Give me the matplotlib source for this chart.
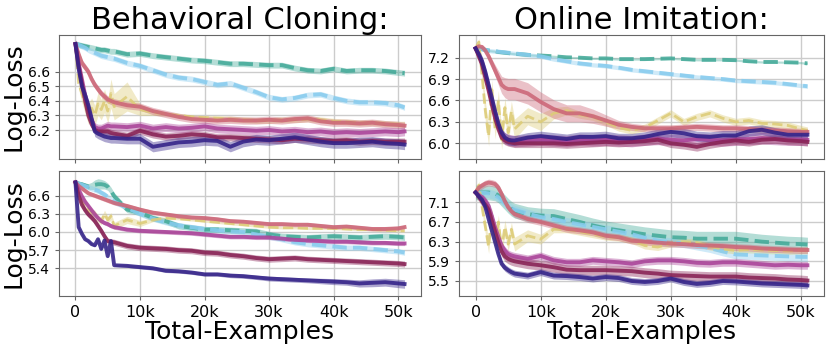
import numpy as np
import matplotlib
matplotlib.use('Agg')
import matplotlib.pyplot as plt

# x positions (thousands of examples)
X = [0, 0.5, 1, 1.5, 2, 2.5, 3, 3.5, 4, 4.5, 5, 5.5, 6,
     8, 10, 12, 14, 16, 18, 20, 22, 24, 26, 28, 30, 32, 34, 36, 38, 40, 42, 44, 46, 48, 50,
     51]

# ---- Behavioral Cloning, top row ----
tl_teal = [6.79, 6.785, 6.78, 6.775, 6.77, 6.765, 6.76, 6.755, 6.75, 6.75, 6.745, 6.74, 6.74,
           6.72, 6.725, 6.71, 6.70, 6.69, 6.68, 6.675, 6.665, 6.655, 6.655, 6.65, 6.645, 6.645, 6.625, 6.61, 6.605, 6.62, 6.605, 6.61, 6.61, 6.605, 6.595,
           6.59]
tl_blue = [6.79, 6.785, 6.775, 6.765, 6.75, 6.74, 6.73, 6.72, 6.71, 6.705, 6.70, 6.695, 6.69,
           6.66, 6.64, 6.61, 6.58, 6.56, 6.55, 6.53, 6.51, 6.52, 6.49, 6.46, 6.425, 6.41, 6.42, 6.44, 6.445, 6.42, 6.40, 6.39, 6.39, 6.385, 6.37,
           6.355]
tl_sand = [6.79, 6.52, 6.45, 6.38, 6.31, 6.35, 6.30, 6.38, 6.34, 6.40, 6.33, 6.45, 6.36,
           6.43, 6.34, 6.32, 6.31, 6.30, 6.29, 6.285, 6.28, 6.275, 6.27, 6.265, 6.265, 6.27, 6.27, 6.275, 6.27, 6.26, 6.255, 6.25, 6.25, 6.245, 6.24,
           6.24]
tl_rose = [6.79, 6.72, 6.66, 6.63, 6.60, 6.55, 6.51, 6.48, 6.45, 6.43, 6.41, 6.40, 6.39,
           6.37, 6.36, 6.33, 6.31, 6.29, 6.275, 6.27, 6.265, 6.27, 6.265, 6.265, 6.27, 6.265, 6.275, 6.28, 6.26, 6.25, 6.25, 6.245, 6.25, 6.24, 6.235,
           6.23]
tl_purple = [6.79, 6.66, 6.55, 6.44, 6.34, 6.27, 6.22, 6.21, 6.21, 6.22, 6.23, 6.225, 6.225,
             6.22, 6.23, 6.21, 6.22, 6.21, 6.215, 6.225, 6.21, 6.205, 6.20, 6.195, 6.20, 6.19, 6.195, 6.185, 6.19, 6.18, 6.185, 6.18, 6.185, 6.19, 6.185,
             6.19]
tl_wine = [6.79, 6.64, 6.52, 6.40, 6.30, 6.24, 6.20, 6.19, 6.19, 6.19, 6.19, 6.18, 6.175,
           6.16, 6.195, 6.17, 6.155, 6.16, 6.17, 6.165, 6.15, 6.15, 6.145, 6.14, 6.135, 6.13, 6.14, 6.135, 6.13, 6.125, 6.13, 6.12, 6.125, 6.12, 6.12,
           6.12]
tl_indigo = [6.79, 6.62, 6.50, 6.44, 6.37, 6.28, 6.19, 6.175, 6.165, 6.155, 6.15, 6.145, 6.145,
             6.14, 6.14, 6.085, 6.10, 6.115, 6.12, 6.13, 6.125, 6.085, 6.12, 6.135, 6.13, 6.14, 6.15, 6.135, 6.12, 6.11, 6.11, 6.115, 6.12, 6.11, 6.105,
             6.10]
tl_sand_band = [0.0, 0.04, 0.06, 0.07, 0.07, 0.07, 0.07, 0.08, 0.07, 0.08, 0.08, 0.10, 0.09,
                0.10, 0.04, 0.02, 0.015, 0.015, 0.015, 0.015, 0.02, 0.02, 0.02, 0.02, 0.02, 0.02, 0.02, 0.02, 0.02, 0.02, 0.02, 0.02, 0.02, 0.02, 0.02,
                0.02]

# ---- Online Imitation, top row ----
tr_teal = [7.33, 7.325, 7.32, 7.31, 7.30, 7.295, 7.29, 7.28, 7.275, 7.27, 7.265, 7.26, 7.255,
           7.24, 7.23, 7.22, 7.205, 7.20, 7.19, 7.19, 7.18, 7.18, 7.18, 7.185, 7.19, 7.18, 7.17, 7.17, 7.17, 7.165, 7.15, 7.14, 7.14, 7.135, 7.13,
           7.12]
tr_blue = [7.33, 7.325, 7.32, 7.31, 7.30, 7.295, 7.29, 7.285, 7.28, 7.275, 7.27, 7.265, 7.26,
           7.24, 7.22, 7.18, 7.15, 7.12, 7.10, 7.085, 7.06, 7.03, 7.01, 6.99, 6.97, 6.95, 6.93, 6.915, 6.90, 6.88, 6.87, 6.86, 6.85, 6.83, 6.81,
           6.80]
tr_sand = [7.33, 7.42, 6.95, 6.45, 6.10, 6.75, 6.20, 6.60, 6.05, 6.50, 6.15, 6.45, 6.20,
           6.38, 6.30, 6.42, 6.46, 6.40, 6.37, 6.30, 6.22, 6.18, 6.22, 6.32, 6.42, 6.30, 6.37, 6.42, 6.35, 6.30, 6.32, 6.28, 6.27, 6.25, 6.20,
           6.18]
tr_rose = [7.33, 7.36, 7.35, 7.30, 7.22, 7.12, 7.02, 6.92, 6.82, 6.78, 6.76, 6.76, 6.76,
           6.70, 6.58, 6.48, 6.42, 6.42, 6.38, 6.32, 6.26, 6.23, 6.21, 6.21, 6.21, 6.22, 6.23, 6.22, 6.21, 6.21, 6.20, 6.19, 6.18, 6.17, 6.16,
           6.16]
tr_purple = [7.33, 7.24, 7.12, 6.96, 6.78, 6.58, 6.40, 6.24, 6.12, 6.07, 6.05, 6.04, 6.03,
             6.04, 6.05, 6.04, 6.03, 6.05, 6.04, 6.05, 6.04, 6.03, 6.05, 6.06, 6.05, 6.04, 6.06, 6.05, 6.04, 6.05, 6.06, 6.07, 6.06, 6.05, 6.05,
             6.05]
tr_wine = [7.33, 7.22, 7.10, 6.92, 6.74, 6.54, 6.35, 6.20, 6.08, 6.04, 6.02, 6.01, 6.00,
           6.00, 6.00, 6.00, 5.99, 6.00, 6.01, 6.02, 6.01, 6.02, 6.03, 6.05, 6.00, 5.98, 5.95, 5.99, 6.02, 6.04, 6.02, 6.05, 6.06, 6.04, 6.03,
           6.02]
tr_indigo = [7.33, 7.25, 7.15, 7.00, 6.82, 6.64, 6.45, 6.28, 6.15, 6.08, 6.05, 6.04, 6.04,
             6.08, 6.10, 6.08, 6.06, 6.09, 6.09, 6.10, 6.07, 6.07, 6.09, 6.13, 6.16, 6.14, 6.10, 6.09, 6.11, 6.11, 6.17, 6.19, 6.15, 6.12, 6.12,
             6.12]
tr_sand_band = [0.0, 0.05, 0.10, 0.14, 0.14, 0.14, 0.14, 0.14, 0.14, 0.14, 0.14, 0.14, 0.14,
                0.12, 0.12, 0.08, 0.06, 0.05, 0.05, 0.05, 0.05, 0.05, 0.05, 0.05, 0.05, 0.05, 0.05, 0.05, 0.05, 0.05, 0.05, 0.05, 0.05, 0.05, 0.05,
                0.05]
tr_rose_band = [0.0, 0.02, 0.03, 0.04, 0.05, 0.06, 0.08, 0.10, 0.12, 0.14, 0.15, 0.15, 0.15,
                0.15, 0.14, 0.13, 0.12, 0.12, 0.10, 0.08, 0.06, 0.05, 0.05, 0.05, 0.05, 0.05, 0.05, 0.05, 0.05, 0.05, 0.05, 0.05, 0.05, 0.05, 0.05,
                0.05]

# ---- Behavioral Cloning, bottom row ----
bl_teal = [6.82, 6.80, 6.79, 6.77, 6.75, 6.76, 6.78, 6.79, 6.79, 6.78, 6.75, 6.68, 6.59,
           6.37, 6.32, 6.23, 6.18, 6.10, 6.07, 6.04, 6.04, 6.03, 6.02, 6.01, 5.96, 5.93, 5.92, 5.91, 5.92, 5.93, 5.92, 5.91, 5.92, 5.93, 5.92,
           5.91]
bl_blue = [6.82, 6.80, 6.78, 6.76, 6.74, 6.72, 6.70, 6.68, 6.65, 6.62, 6.58, 6.54, 6.50,
           6.40, 6.30, 6.22, 6.16, 6.11, 6.08, 6.05, 6.03, 6.01, 6.00, 5.96, 5.92, 5.88, 5.83, 5.80, 5.78, 5.76, 5.74, 5.74, 5.72, 5.70, 5.68,
           5.66]
bl_sand = [6.82, 6.62, 6.50, 6.40, 6.36, 6.32, 6.30, 6.22, 6.18, 6.30, 6.20, 6.26, 6.10,
           6.20, 6.14, 6.20, 6.23, 6.22, 6.20, 6.18, 6.16, 6.14, 6.12, 6.10, 6.08, 6.07, 6.07, 6.06, 6.06, 6.06, 6.05, 6.04, 6.04, 6.03, 6.02,
           6.02]
bl_rose = [6.82, 6.76, 6.72, 6.68, 6.64, 6.62, 6.60, 6.58, 6.56, 6.54, 6.52, 6.50, 6.48,
           6.43, 6.37, 6.32, 6.29, 6.26, 6.24, 6.23, 6.21, 6.18, 6.17, 6.15, 6.13, 6.13, 6.12, 6.12, 6.10, 6.08, 6.09, 6.07, 6.05, 6.05, 6.06,
           6.08]
bl_purple = [6.82, 6.70, 6.59, 6.50, 6.43, 6.36, 6.29, 6.23, 6.18, 6.15, 6.13, 6.10, 6.08,
             6.04, 6.02, 6.01, 6.00, 5.99, 5.98, 5.96, 5.94, 5.92, 5.92, 5.91, 5.91, 5.89, 5.87, 5.86, 5.85, 5.84, 5.84, 5.83, 5.82, 5.82, 5.81,
             5.81]
bl_wine = [6.82, 6.60, 6.45, 6.36, 6.29, 6.24, 6.18, 6.10, 6.02, 5.93, 5.85, 5.84, 5.83,
           5.77, 5.74, 5.73, 5.72, 5.70, 5.69, 5.66, 5.65, 5.62, 5.60, 5.57, 5.55, 5.56, 5.57, 5.55, 5.54, 5.53, 5.52, 5.51, 5.50, 5.49, 5.48,
           5.47]
bl_indigo = [6.82, 6.08, 5.97, 5.88, 5.85, 5.80, 5.78, 5.88, 5.72, 5.86, 5.60, 5.85, 5.45,
             5.44, 5.42, 5.40, 5.36, 5.35, 5.33, 5.30, 5.30, 5.28, 5.27, 5.25, 5.23, 5.22, 5.21, 5.20, 5.19, 5.18, 5.17, 5.15, 5.16, 5.17, 5.15,
             5.14]
bl_teal_band = [0.0, 0.02, 0.03, 0.04, 0.05, 0.06, 0.08, 0.09, 0.08, 0.07, 0.06, 0.06, 0.06,
                0.05, 0.05, 0.05, 0.05, 0.05, 0.05, 0.05, 0.05, 0.05, 0.05, 0.05, 0.05, 0.05, 0.05, 0.05, 0.05, 0.05, 0.05, 0.05, 0.05, 0.05, 0.05,
                0.05]
bl_sand_band = [0.0, 0.03, 0.04, 0.05, 0.05, 0.06, 0.06, 0.06, 0.06, 0.06, 0.06, 0.06, 0.06,
                0.06, 0.05, 0.03, 0.02, 0.02, 0.02, 0.02, 0.02, 0.02, 0.02, 0.02, 0.02, 0.02, 0.02, 0.02, 0.02, 0.02, 0.02, 0.02, 0.02, 0.02, 0.02,
                0.02]
bl_indigo_band = [0.0, 0.02, 0.02, 0.02, 0.02, 0.02, 0.02, 0.02, 0.02, 0.02, 0.02, 0.02, 0.02,
                  0.025, 0.03, 0.03, 0.03, 0.03, 0.03, 0.03, 0.03, 0.035, 0.035, 0.035, 0.04, 0.04, 0.04, 0.04, 0.045, 0.05, 0.05, 0.06, 0.065, 0.065, 0.07,
                  0.07]

# ---- Online Imitation, bottom row ----
br_teal = [7.30, 7.30, 7.30, 7.30, 7.30, 7.29, 7.28, 7.24, 7.17, 7.10, 7.03, 6.97, 6.93,
           6.86, 6.83, 6.82, 6.76, 6.70, 6.63, 6.57, 6.53, 6.49, 6.45, 6.42, 6.39, 6.38, 6.36, 6.36, 6.36, 6.36, 6.33, 6.30, 6.28, 6.26, 6.25,
           6.24]
br_blue = [7.30, 7.30, 7.29, 7.29, 7.28, 7.26, 7.24, 7.20, 7.14, 7.08, 7.03, 6.98, 6.95,
           6.87, 6.80, 6.76, 6.70, 6.65, 6.60, 6.55, 6.50, 6.45, 6.38, 6.32, 6.29, 6.27, 6.22, 6.17, 6.10, 6.04, 6.03, 6.02, 6.01, 6.00, 5.99,
           5.99]
br_sand = [7.30, 7.45, 7.00, 6.60, 6.20, 6.85, 6.25, 6.70, 6.15, 6.60, 6.25, 6.55, 6.25,
           6.42, 6.35, 6.55, 6.55, 6.50, 6.45, 6.40, 6.38, 6.33, 6.22, 6.19, 6.26, 6.30, 6.28, 6.20, 6.15, 6.12, 6.14, 6.13, 6.12, 6.11, 6.12,
           6.12]
br_rose = [7.30, 7.40, 7.44, 7.48, 7.50, 7.49, 7.47, 7.40, 7.27, 7.12, 7.00, 6.92, 6.86,
           6.76, 6.70, 6.63, 6.56, 6.53, 6.49, 6.42, 6.39, 6.32, 6.30, 6.28, 6.26, 6.25, 6.23, 6.22, 6.21, 6.19, 6.18, 6.16, 6.15, 6.14, 6.13,
           6.13]
br_purple = [7.30, 7.25, 7.20, 7.13, 7.03, 6.82, 6.59, 6.40, 6.22, 6.12, 6.05, 6.02, 6.00,
             5.95, 6.01, 5.92, 5.88, 5.88, 5.92, 5.90, 5.88, 5.85, 5.90, 5.92, 5.92, 5.90, 5.87, 5.86, 5.88, 5.88, 5.86, 5.84, 5.82, 5.83, 5.82,
             5.82]
br_wine = [7.30, 7.22, 7.12, 7.05, 6.95, 6.72, 6.50, 6.28, 6.10, 6.00, 5.95, 5.92, 5.90,
           5.85, 5.82, 5.78, 5.73, 5.72, 5.72, 5.72, 5.71, 5.70, 5.67, 5.65, 5.62, 5.61, 5.60, 5.59, 5.59, 5.59, 5.57, 5.56, 5.55, 5.53, 5.52,
           5.51]
br_indigo = [7.30, 7.22, 7.15, 7.00, 6.76, 6.52, 6.29, 6.05, 5.85, 5.77, 5.72, 5.68, 5.65,
             5.61, 5.68, 5.61, 5.60, 5.58, 5.55, 5.58, 5.56, 5.50, 5.48, 5.50, 5.55, 5.48, 5.44, 5.46, 5.50, 5.49, 5.47, 5.45, 5.44, 5.43, 5.42,
             5.41]
br_sand_band = [0.0, 0.08, 0.10, 0.14, 0.14, 0.14, 0.14, 0.14, 0.14, 0.14, 0.14, 0.14, 0.14,
                0.12, 0.10, 0.07, 0.07, 0.07, 0.07, 0.07, 0.07, 0.07, 0.07, 0.07, 0.07, 0.07, 0.07, 0.07, 0.07, 0.07, 0.07, 0.07, 0.07, 0.07, 0.07,
                0.07]

x_ticks = [0, 10000, 20000, 30000, 40000, 50000]
x_tick_labels = ['0', '10k', '20k', '30k', '40k', '50k']

colors = {'teal': '#44AA99', 'blue': '#88CCEE', 'sand': '#DDCC77', 'rose': '#CC6677',
          'purple': '#AA4499', 'wine': '#882255', 'indigo': '#332288'}
dashed = ['teal', 'blue', 'sand']
order = ['teal', 'blue', 'sand', 'rose', 'purple', 'wine', 'indigo']

steps = np.array(X) * 1000


def draw(ax, curves, bands):
    for name in order:
        y = np.array(curves[name])
        b = np.array(bands[name])
        c = colors[name]
        ax.fill_between(steps, y - b, y + b, color=c, alpha=0.4, lw=0)
        ax.plot(steps, y, color=c, lw=2.8 if name != 'sand' else 2.0,
                ls='--' if name in dashed else '-', alpha=0.88)


panels = [
    (dict(teal=tl_teal, blue=tl_blue, sand=tl_sand, rose=tl_rose, purple=tl_purple, wine=tl_wine, indigo=tl_indigo),
     dict(teal=0.02, blue=0.02, sand=tl_sand_band, rose=0.025, purple=0.03, wine=0.025, indigo=0.035),
     [6.2, 6.3, 6.4, 6.5, 6.6], (6.001, 6.852)),
    (dict(teal=tr_teal, blue=tr_blue, sand=tr_sand, rose=tr_rose, purple=tr_purple, wine=tr_wine, indigo=tr_indigo),
     dict(teal=0.015, blue=0.03, sand=tr_sand_band, rose=tr_rose_band, purple=0.08, wine=0.06, indigo=0.07),
     [6.0, 6.3, 6.6, 6.9, 7.2], (5.78, 7.518)),
    (dict(teal=bl_teal, blue=bl_blue, sand=bl_sand, rose=bl_rose, purple=bl_purple, wine=bl_wine, indigo=bl_indigo),
     dict(teal=bl_teal_band, blue=0.045, sand=bl_sand_band, rose=0.035, purple=0.035, wine=0.05, indigo=bl_indigo_band),
     [5.4, 5.7, 6.0, 6.3, 6.6], (4.942, 7.008)),
    (dict(teal=br_teal, blue=br_blue, sand=br_sand, rose=br_rose, purple=br_purple, wine=br_wine, indigo=br_indigo),
     dict(teal=0.15, blue=0.09, sand=br_sand_band, rose=0.07, purple=0.08, wine=0.1, indigo=0.07),
     [5.5, 5.9, 6.3, 6.7, 7.1], (5.195, 7.736)),
]

W, H = 831, 352
fig = plt.figure(figsize=(W / 100, H / 100), dpi=100)
boxes = [(59, 35, 421, 159), (459, 35, 824, 159), (59, 171, 421, 296), (459, 171, 824, 296)]

for i, ((curves, bands, yt, ylim), (x0, y0, x1, y1)) in enumerate(zip(panels, boxes)):
    ax = fig.add_axes([x0 / W, 1 - y1 / H, (x1 - x0) / W, (y1 - y0) / H])
    draw(ax, curves, bands)
    ax.set_yticks(yt)
    ax.set_ylim(ylim)
    ax.set_xticks(x_ticks)
    ax.grid(True, color='#cccccc', lw=1.0)
    ax.set_axisbelow(True)
    for s in ax.spines.values():
        s.set_color('#666666')
    ax.tick_params(axis='y', labelsize=10, length=3, color='#666666')
    ax.tick_params(axis='x', labelsize=11.5, length=3, color='#666666')
    if i < 2:
        ax.set_xticklabels([])
        ax.set_title(['Behavioral Cloning:', 'Online Imitation:'][i], fontsize=22, pad=3)
    else:
        ax.set_xticklabels(x_tick_labels)
        ax.set_xlabel('Total-Examples', fontsize=18, labelpad=0)
    if i % 2 == 0:
        ax.set_ylabel('Log-Loss', fontsize=18, labelpad=2)

fig.savefig('out.png', dpi=100)
